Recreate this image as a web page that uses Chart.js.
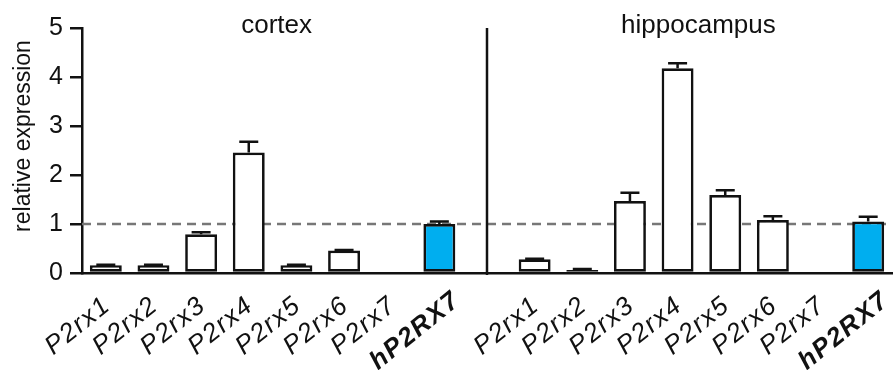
<!DOCTYPE html>
<html>
<head>
<meta charset="utf-8">
<script src="https://cdn.jsdelivr.net/npm/chart.js@4.4.1/dist/chart.umd.min.js"></script>
<style>
  html, body { margin: 0; padding: 0; background: #ffffff; }
  #wrap { width: 894px; height: 370px; position: relative; }
</style>
</head>
<body>
<div id="wrap"><canvas id="chart" width="894" height="370"></canvas></div>
<script>
// Expression of P2 receptor transcripts, relative to hP2RX7 (= 1)
const regions = ['cortex', 'hippocampus'];
const genes = ['P2rx1', 'P2rx2', 'P2rx3', 'P2rx4', 'P2rx5', 'P2rx6', 'P2rx7', 'hP2RX7'];
const cortexValues = [0.16, 0.16, 0.79, 2.46, 0.16, 0.46, 0, 1.0];
const cortexErrors = [0.01, 0.01, 0.04, 0.22, 0.01, 0.01, 0, 0.05];
const hippocampusValues = [0.28, 0.06, 1.47, 4.18, 1.59, 1.08, 0, 1.05];
const hippocampusErrors = [0.01, 0.02, 0.17, 0.10, 0.10, 0.08, 0, 0.10];
const yTicks = [0, 1, 2, 3, 4, 5];
const referenceLevel = 1;
const highlightGene = 'hP2RX7';

// one empty slot separates the two regions
const labels = [...genes, '', ...genes];
const values = [...cortexValues, null, ...hippocampusValues];
const errors = [...cortexErrors, null, ...hippocampusErrors];
const gapIndex = genes.length;

const FONT = "'Liberation Sans', Arial, Helvetica, sans-serif";
const INK = '#111111';
const BLUE = '#00aeef';
const LABEL_ANGLE = 39 * Math.PI / 180;

const overlay = {
  id: 'overlay',
  beforeDatasetsDraw(chart) {
    const { ctx, chartArea, scales } = chart;
    const y = scales.y.getPixelForValue(referenceLevel);
    ctx.save();
    ctx.strokeStyle = '#777777';
    ctx.lineWidth = 2.5;
    ctx.setLineDash([9, 6]);
    ctx.beginPath();
    ctx.moveTo(chartArea.left, y);
    ctx.lineTo(chartArea.right, y);
    ctx.stroke();
    ctx.restore();
  },
  afterDatasetsDraw(chart) {
    const { ctx, scales } = chart;
    const meta = chart.getDatasetMeta(0);
    ctx.save();
    ctx.strokeStyle = INK;
    ctx.lineWidth = 2.5;
    // error bars (upper arm only)
    values.forEach((v, i) => {
      const e = errors[i];
      if (v === null || !e) return;
      const x = meta.data[i].x;
      const yTop = scales.y.getPixelForValue(v);
      const yCap = scales.y.getPixelForValue(v + e);
      ctx.beginPath();
      ctx.moveTo(x, yTop);
      ctx.lineTo(x, yCap);
      ctx.moveTo(x - 9.5, yCap);
      ctx.lineTo(x + 9.5, yCap);
      ctx.stroke();
    });
    // divider between the two regions
    const xd = scales.x.getPixelForValue(gapIndex);
    ctx.beginPath();
    ctx.moveTo(xd, scales.y.getPixelForValue(yTicks[yTicks.length - 1]));
    ctx.lineTo(xd, scales.y.getPixelForValue(0) + 2);
    ctx.stroke();
    ctx.restore();
  },
  afterDraw(chart) {
    const { ctx, scales } = chart;
    ctx.save();
    ctx.fillStyle = INK;
    // region titles
    ctx.font = '26px ' + FONT;
    ctx.textAlign = 'center';
    ctx.textBaseline = 'alphabetic';
    const c0 = (scales.x.getPixelForValue(0) + scales.x.getPixelForValue(gapIndex - 1)) / 2;
    const c1 = (scales.x.getPixelForValue(gapIndex + 1) + scales.x.getPixelForValue(labels.length - 1)) / 2;
    ctx.fillText(regions[0], c0 + 4, 33);
    ctx.fillText(regions[1], c1 - 3, 33);
    // rotated category labels
    ctx.textAlign = 'right';
    labels.forEach((label, i) => {
      if (!label) return;
      const bold = label === highlightGene;
      const x = scales.x.getPixelForValue(i);
      ctx.save();
      ctx.translate(x + (bold ? 22 : 6), bold ? 303 : 308);
      ctx.rotate(-LABEL_ANGLE);
      ctx.font = (bold ? 'italic bold ' : 'italic ') + '26px ' + FONT;
      ctx.letterSpacing = '1.5px';
      ctx.fillText(label, 0, 0);
      ctx.restore();
    });
    // y-axis title
    ctx.translate(30, 136);
    ctx.rotate(-Math.PI / 2);
    ctx.textAlign = 'center';
    ctx.font = '23px ' + FONT;
    ctx.fillText('relative expression', 0, 0);
    ctx.restore();
  }
};

new Chart(document.getElementById('chart'), {
  type: 'bar',
  data: {
    labels: labels,
    datasets: [{
      data: values,
      backgroundColor: labels.map(l => l === highlightGene ? BLUE : '#ffffff'),
      borderColor: INK,
      borderWidth: 2.7,
      borderSkipped: false,
      categoryPercentage: 0.67,
      barPercentage: 1.0
    }]
  },
  options: {
    responsive: false,
    animation: false,
    devicePixelRatio: 1,
    layout: { padding: { top: 28, right: 2, left: 0, bottom: 0 } },
    plugins: { legend: { display: false }, tooltip: { enabled: false } },
    scales: {
      x: {
        grid: { display: false },
        border: { display: true, color: INK, width: 2.5 },
        ticks: { display: false },
        afterFit(scale) { scale.height = 97; }
      },
      y: {
        min: yTicks[0],
        max: yTicks[yTicks.length - 1],
        afterBuildTicks(scale) { scale.ticks = yTicks.map(v => ({ value: v })); },
        grid: { display: true, drawOnChartArea: false, drawTicks: true, tickLength: 12, color: INK, lineWidth: 2.5 },
        border: { display: true, color: INK, width: 2.5 },
        ticks: { color: INK, padding: 7, font: { family: FONT, size: 25 } },
        afterFit(scale) { scale.width = 82; }
      }
    }
  },
  plugins: [overlay]
});
</script>
</body>
</html>
